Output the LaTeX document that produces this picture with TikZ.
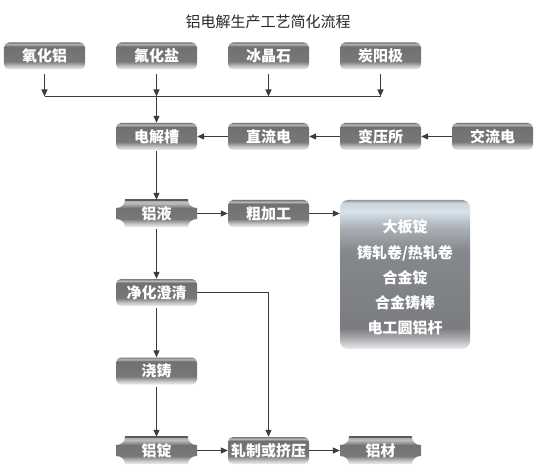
\documentclass[tikz,border=0pt]{standalone}
\usepackage{fontspec}
\setmainfont{Liberation Sans}
\newfontfamily\cjk{Noto Sans CJK SC}
\usetikzlibrary{arrows.meta}
\definecolor{lineclr}{RGB}{60,60,62}
\definecolor{titleclr}{RGB}{40,40,40}
\definecolor{barclr}{RGB}{88,90,94}
\pgfdeclareverticalshading{boxshade}{100bp}{
 color(0bp)=(white!94!black);
 color(25bp)=(white!94!black);
 color(31bp)=(black!22);
 color(40bp)=(black!53);
 color(68bp)=(black!56);
 color(71.5bp)=(black!28);
 color(75bp)=(black!52);
 color(100bp)=(black!52)}
\pgfdeclareverticalshading{ingotshade}{100bp}{
 color(0bp)=(white!94!black);
 color(25bp)=(white!94!black);
 color(31bp)=(black!22);
 color(40bp)=(black!53);
 color(60bp)=(black!55);
 color(69bp)=(black!26);
 color(73bp)=(black!30);
 color(75bp)=(black!50);
 color(100bp)=(black!50)}
\definecolor{bgA}{RGB}{150,153,157}
\definecolor{bgB}{RGB}{205,212,218}
\definecolor{bgC}{RGB}{215,226,234}
\definecolor{bgD}{RGB}{172,178,184}
\definecolor{bgE}{RGB}{133,136,140}
\definecolor{bgF}{RGB}{122,124,128}
\definecolor{bgG}{RGB}{172,174,177}
\definecolor{bgH}{RGB}{236,237,239}
\pgfdeclareverticalshading{bigshade}{100bp}{
 color(0bp)=(bgH);
 color(25bp)=(bgH);
 color(28.5bp)=(bgG);
 color(32bp)=(bgF);
 color(58bp)=(bgE);
 color(66bp)=(bgD);
 color(71bp)=(bgC);
 color(74bp)=(bgB);
 color(75bp)=(bgA);
 color(100bp)=(bgA)}
\tikzset{
  boxtext/.style={text=white, inner sep=0pt, font=\cjk\bfseries\fontsize{15bp}{17bp}\selectfont},
  box/.style={boxtext, rounded corners=5bp, minimum width=81bp, minimum height=27bp, shading=boxshade},
  bigbox/.style={rounded corners=8bp, minimum width=130bp, minimum height=149bp, inner sep=0pt, shading=bigshade},
  bigtext/.style={text=white, inner sep=0pt, align=center, font=\cjk\bfseries\fontsize{15bp}{25.2bp}\selectfont},
  conn/.style={draw=lineclr, line width=1.1bp, -{Triangle[length=7bp,width=6bp]}},
  plain/.style={draw=lineclr, line width=1.1bp},
  ingotbar/.style={draw=barclr, line width=2bp}
}
\newcommand\ingotshape[4]{%
  \shade[shading=ingotshade] (#2-31.5,#3-13.5) -- (#2+31.5,#3-13.5)
    .. controls (#2+31.5,#3-8.5) and (#2+35.5,#3-5.5) .. (#2+40.5,#3-5.5)
    -- (#2+40.5,#3+5.5)
    .. controls (#2+35.5,#3+5.5) and (#2+31.5,#3+8.5) .. (#2+31.5,#3+13.5)
    -- (#2-31.5,#3+13.5)
    .. controls (#2-31.5,#3+8.5) and (#2-35.5,#3+5.5) .. (#2-40.5,#3+5.5)
    -- (#2-40.5,#3-5.5)
    .. controls (#2-35.5,#3-5.5) and (#2-31.5,#3-8.5) .. (#2-31.5,#3-13.5) -- cycle;
  \draw[ingotbar] (#2-31.5,#3-13.5) -- (#2+31.5,#3-13.5);
  \node[boxtext, minimum width=81bp, minimum height=27bp] (#1) at (#2,#3) {#4};
}
\begin{document}
\begin{tikzpicture}[x=1bp,y=-1bp]
\useasboundingbox (0,0) rectangle (541,473);
\node[text=titleclr, inner sep=0pt, font=\cjk\fontsize{15bp}{17bp}\selectfont] (title) at (268,21.5) {铝电解生产工艺简化流程};
% top row
\node[box] (yhl) at (44.5,56) {氧化铝};
\node[box] (fhy) at (156.5,56) {氟化盐};
\node[box] (bjs) at (268.5,56) {冰晶石};
\node[box] (tyj) at (380.5,56) {炭阳极};
% second row
\node[box] (djc) at (156.5,136.5) {电解槽};
\node[box] (zld) at (268.5,136.5) {直流电};
\node[box] (bys) at (380.5,136.5) {变压所};
\node[box] (jld) at (492.5,136.5) {交流电};
% third row
\ingotshape{ly}{156.5}{213.5}{铝液}
\node[box] (cjg) at (268.5,213.5) {粗加工};
\node[bigbox] (prod) at (405,274.5) {};
\node[bigtext] (prodtext) at (405,277.5) {大板锭\\铸轧卷/热轧卷\\合金锭\\合金铸棒\\电工圆铝杆};
% column
\node[box] (jhcq) at (156.5,292.5) {净化澄清};
\node[box] (jz) at (156.5,371) {浇铸};
\ingotshape{ld}{156.5}{450.5}{铝锭}
\node[box] (zz) at (268.5,450.5) {轧制或挤压};
\ingotshape{lc}{380.5}{450.5}{铝材}
% connectors
\coordinate (hubL) at (44.5,96.5);
\coordinate (hubR) at (380.5,96.5);
\draw[conn, shorten <=4bp] (yhl.south) -- (yhl.south |- hubL);
\draw[conn, shorten <=4bp] (fhy.south) -- (fhy.south |- hubL);
\draw[conn, shorten <=4bp] (bjs.south) -- (bjs.south |- hubL);
\draw[conn, shorten <=4bp] (tyj.south) -- (tyj.south |- hubL);
\draw[plain] (hubL) -- (hubR);
\draw[conn] (fhy.south |- hubL) -- (djc.north);
\draw[conn] (jld.west) -- (bys.east);
\draw[conn] (bys.west) -- (zld.east);
\draw[conn] (zld.west) -- (djc.east);
\draw[conn, shorten <=1bp] (djc.south) -- (ly.north);
\draw[conn] (ly.east) -- (cjg.west);
\draw[conn] (cjg.east) -- (cjg.east -| prod.west);
\draw[conn, shorten <=2bp] (ly.south) -- (jhcq.north);
\draw[conn, shorten <=2bp] (jhcq.south) -- (jz.north);
\draw[conn, shorten <=2bp] (jz.south) -- (ld.north);
\draw[conn] (jhcq.east) -| (zz.north);
\draw[conn] (ld.east) -- (zz.west);
\draw[conn] (zz.east) -- (lc.west);
\end{tikzpicture}
\end{document}
